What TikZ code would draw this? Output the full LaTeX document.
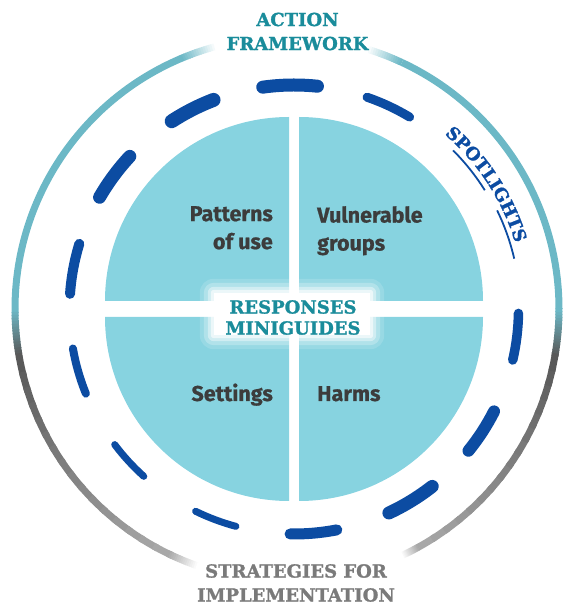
\documentclass[tikz,border=0pt]{standalone}
\usepackage{fontspec}
\usetikzlibrary{decorations.text}
\newfontfamily\slabfont{DejaVu Serif Bold}[FakeBold=1.3]
\newfontfamily\quadfont{Fira Sans}[BoldFeatures={FakeBold=0.8}]
\definecolor{ringteal}{HTML}{6CB8C6}
\definecolor{ringdark}{HTML}{595959}
\definecolor{ringlight}{HTML}{A8A8A8}
\definecolor{dashblue}{HTML}{0C4CA2}
\definecolor{quadblue}{HTML}{87D3E0}
\definecolor{headteal}{HTML}{1A8C9B}
\definecolor{headgray}{HTML}{7A7A7A}
\definecolor{labelgray}{HTML}{3C3C3C}

% piece of the outer ring, angle #1 to #2, colour #3 fading to #4
\newcommand{\ringarc}[4]{%
  \foreach \k in {0,...,15}{%
    \pgfmathsetmacro{\ka}{#1+(#2-#1)*\k/16}%
    \pgfmathsetmacro{\kb}{#1+(#2-#1)*(\k+1.3)/16}%
    \pgfmathtruncatemacro{\kp}{100-\k*100/15}%
    \draw[outer ring, draw=#3!\kp!#4] ([shift={(\ka:272)}]ringc) arc[start angle=\ka, end angle=\kb, radius=272];
  }}

\begin{document}
\begin{tikzpicture}[x=1pt, y=1pt,
    outer ring/.style={line width=7pt},
    spotdash/.style={draw=dashblue, line cap=round},
    quad/.style={fill=quadblue},
    head/.style={font=\slabfont\fontsize{18}{24}\selectfont, align=center, inner sep=0pt},
    quadlabel/.style={font=\quadfont\bfseries\fontsize{21.5}{28}\selectfont, text=labelgray, inner sep=0pt}]
  \useasboundingbox (0,0) rectangle (566,605);
  \coordinate (ctr) at (294,295.5);
  \coordinate (ringc) at (287,296);

  % quarter discs
  \fill[quad] (289,304) -- ++(-184,0) arc[start angle=180, end angle=90, radius=184] -- cycle;
  \fill[quad] (299,304) -- ++(0,184) arc[start angle=90, end angle=0, radius=184] -- cycle;
  \fill[quad] (289,288) -- ++(0,-184) arc[start angle=270, end angle=180, radius=184] -- cycle;
  \fill[quad] (299,288) -- ++(184,0) arc[start angle=0, end angle=-90, radius=184] -- cycle;

  % white glow behind the centre title
  \node (glow) [minimum width=156pt, minimum height=42pt] at (292,291) {};
  \foreach \g/\o in {14/0.15, 10/0.25, 6/0.4, 3/0.6}
    \fill[white, opacity=\o, rounded corners=\g pt] ([shift={(-\g,-\g)}]glow.south west) rectangle ([shift={(\g,\g)}]glow.north east);
  \fill[white] (glow.south west) rectangle (glow.north east);
  \node (responses) [head, text=headteal, font=\slabfont\fontsize{18}{21}\selectfont] at (293,287.5) {RESPONSES\\MINIGUIDES};

  % quadrant labels
  \node (patterns) [quadlabel, align=right, anchor=north east] at (273,399) {Patterns\\of use};
  \node (vulnerable) [quadlabel, align=left, anchor=north west] at (317,399) {Vulnerable\\groups};
  \node (settings) [quadlabel, anchor=base east] at (273,204) {Settings};
  \node (harms) [quadlabel, anchor=base west] at (317,204) {Harms};

  % dashed ring
  \foreach \s/\e/\w in {98/84/13, 71/59/9, -1/-13/9.5, -27/-39/12, -52/-65/13, -79/-91/11,
      -105/-116/7, -132/-143/7, -158/-170/8, -184/-197/10, -210/-223/13, -237/-249/14}
    \draw[spotdash, line width=\w pt] ([shift={(\s:224.5)}]ctr) arc[start angle=\s, end angle=\e, radius=224.5];

  % spotlights along the ring
  \path[decorate, decoration={text along path, text color=dashblue, text align=center,
      text={|\slabfont\fontsize{17.5}{17.5}\selectfont|SPOTLIGHTS}}]
    ([shift={(52:231)}]ctr) arc[start angle=52, end angle=14, radius=231];
  \draw[dashblue, line width=1.8pt] ([shift={(45:225)}]ctr) arc[start angle=45, end angle=32, radius=225];
  \draw[dashblue, line width=1.8pt] ([shift={(26:226)}]ctr) arc[start angle=26, end angle=13, radius=226];

  % outer ring
  \ringarc{-65}{-61}{white}{ringlight}
  \ringarc{-61}{-10}{ringlight}{ringdark}
  \ringarc{-10}{0}{ringdark}{ringteal}
  \draw[outer ring, draw=ringteal] ([shift={(0:272)}]ringc) arc[start angle=0, end angle=65, radius=272];
  \ringarc{65}{73}{ringteal}{white}
  \ringarc{105}{113}{white}{ringteal}
  \draw[outer ring, draw=ringteal] ([shift={(113:272)}]ringc) arc[start angle=113, end angle=180, radius=272];
  \ringarc{180}{190}{ringteal}{ringdark}
  \ringarc{190}{244}{ringdark}{ringlight}
  \ringarc{244}{251}{ringlight}{white}

  % titles
  \node (action) [head, text=headteal] at (297.5,573.5) {ACTION\\FRAMEWORK};
  \node (strategies) [head, text=headgray] at (296,22) {STRATEGIES FOR\\IMPLEMENTATION};
\end{tikzpicture}
\end{document}
